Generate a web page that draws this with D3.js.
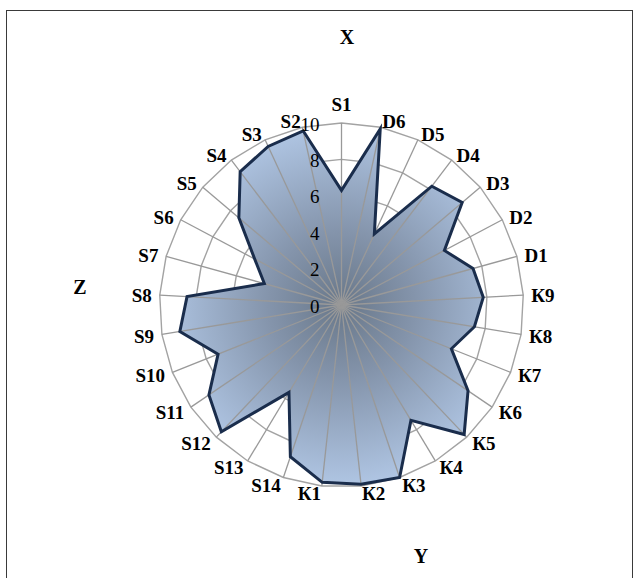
<!DOCTYPE html>
<html><head><meta charset="utf-8">
<script src="https://cdn.jsdelivr.net/npm/d3@7"></script>
<style>html,body{margin:0;padding:0;background:#fff;}svg{display:block;}</style>
</head><body>
<svg id="chart" width="635" height="578"></svg>
<script>
const categories = ["S1","D6","D5","D4","D3","D2","D1","К9","К8","К7","К6","К5","К4","К3","К2","К1","S14","S13","S12","S11","S10","S9","S8","S7","S6","S5","S4","S3","S2"];
const values = [6.3, 9.9, 4.3, 8.2, 8.7, 6.4, 7.5, 7.8, 7.4, 6.5, 8.4, 9.8, 7.4, 10, 9.9, 9.8, 8.8, 5.6, 9.6, 8.8, 7.3, 9.0, 8.5, 4.4, 5.4, 7.4, 9.2, 9.6, 9.8];
const tickValues = [0, 2, 4, 6, 8, 10];
const axisTitles = ["X", "Y", "Z"];

const svg = d3.select("#chart");
const cx = 341.5, cy = 305, R = 182;
const n = categories.length;
const r = d3.scaleLinear().domain([0, 10]).range([0, R]);
const ang = d3.scaleLinear().domain([0, n]).range([0, 2 * Math.PI]);

// frame
svg.append("rect").attr("x", 6.5).attr("y", 10.5).attr("width", 626).attr("height", 600)
  .attr("fill", "none").attr("stroke", "#3a3a3a").attr("stroke-width", 1);

const defs = svg.append("defs");
const grad = defs.append("radialGradient").attr("id", "fillGrad")
  .attr("gradientUnits", "userSpaceOnUse").attr("cx", 0).attr("cy", 0).attr("r", R);
grad.append("stop").attr("offset", "0%").attr("stop-color", "#687789");
grad.append("stop").attr("offset", "40%").attr("stop-color", "#8494ab");
grad.append("stop").attr("offset", "100%").attr("stop-color", "#b0c6e4");

const g = svg.append("g").attr("transform", `translate(${cx},${cy})`);
const idx = d3.range(n);

// rings
const ringLine = d3.lineRadial().curve(d3.curveLinearClosed)
  .angle(i => ang(i));
tickValues.filter(v => v > 0).forEach(v => {
  g.append("path").attr("d", ringLine.radius(() => r(v))(idx))
    .attr("fill", "none").attr("stroke", "#a3a3a3").attr("stroke-width", 1.4);
});

// area
const area = d3.lineRadial().curve(d3.curveLinearClosed)
  .angle((d, i) => ang(i)).radius(d => r(d));
g.append("path").attr("d", area(values)).attr("fill", "url(#fillGrad)").attr("stroke", "none");

// spokes
g.selectAll("line.spoke").data(idx).enter().append("line")
  .attr("x1", 0).attr("y1", 0)
  .attr("x2", i => r(10) * Math.sin(ang(i)))
  .attr("y2", i => -r(10) * Math.cos(ang(i)))
  .attr("stroke", "#999999").attr("stroke-width", 1.3);

// series outline
g.append("path").attr("d", area(values)).attr("fill", "none")
  .attr("stroke", "#1a2d4c").attr("stroke-width", 3).attr("stroke-linejoin", "miter");

// tick labels
g.selectAll("text.tick").data(tickValues).enter().append("text")
  .attr("x", -22).attr("y", v => -r(v) + 1)
  .attr("text-anchor", "end").attr("dominant-baseline", "central")
  .attr("font-family", "'Liberation Serif', 'Times New Roman', serif")
  .attr("font-size", 19).attr("fill", "#000").text(v => v);

// category labels
g.selectAll("text.cat").data(categories).enter().append("text")
  .each(function(c, i) {
    const a = ang(i), s = Math.sin(a), co = Math.cos(a);
    const px = R * s, py = -R * co;
    const t = d3.select(this);
    if (Math.abs(s) < 0.05) {
      t.attr("x", px).attr("y", py - 19 * co).attr("text-anchor", "middle");
    } else {
      t.attr("x", px + 8 * s).attr("y", py - 7 * co + 1)
        .attr("text-anchor", s > 0 ? "start" : "end");
    }
  })
  .attr("dominant-baseline", "central")
  .attr("font-family", "'Liberation Serif', 'Times New Roman', serif")
  .attr("font-size", 19).attr("font-weight", "bold").attr("fill", "#000")
  .text(d => d);

// axis titles
const titlePos = [[347, 37], [421, 556], [80, 287]];
svg.selectAll("text.title").data(axisTitles).enter().append("text")
  .attr("x", (d, i) => titlePos[i][0]).attr("y", (d, i) => titlePos[i][1])
  .attr("text-anchor", "middle").attr("dominant-baseline", "central")
  .attr("font-family", "'Liberation Serif', 'Times New Roman', serif")
  .attr("font-size", 20).attr("font-weight", "bold").attr("fill", "#000")
  .text(d => d);
</script>
</body></html>
